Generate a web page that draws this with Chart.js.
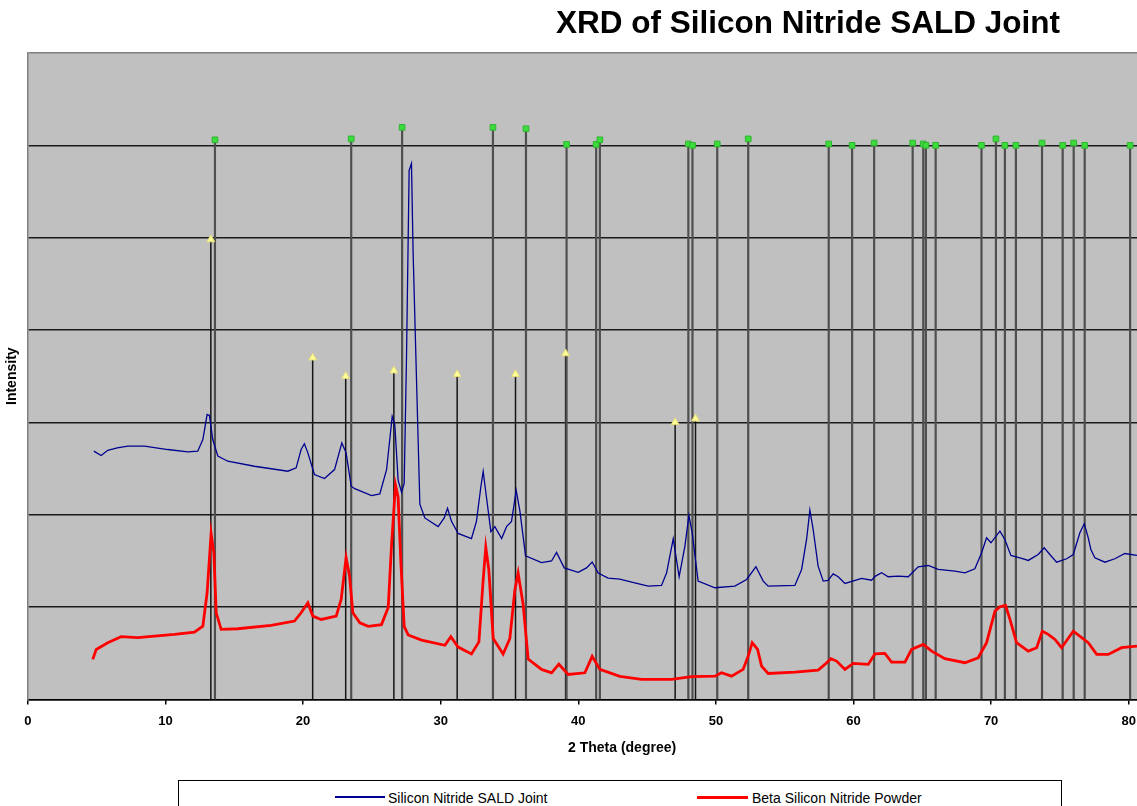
<!DOCTYPE html>
<html>
<head>
<meta charset="utf-8">
<title>XRD of Silicon Nitride SALD Joint</title>
<script src="https://cdn.jsdelivr.net/npm/chart.js@4.4.1/dist/chart.umd.min.js"></script>
<style>
  body { margin: 0; background: #fff; }
  #wrap { position: relative; width: 1137px; height: 806px; overflow: hidden; font-family: "Liberation Sans", Arial, sans-serif; color: #000; }
  #xrdChart { position: absolute; left: 0; top: 0; }
  #title { position: absolute; left: 556px; top: 7px; font-size: 31.5px; line-height: 31px; font-weight: bold; white-space: nowrap; }
  #xTitle { position: absolute; left: 568px; top: 740px; font-size: 14px; line-height: 14px; font-weight: bold; white-space: nowrap; }
  #legend { position: absolute; left: 178px; top: 780px; width: 884px; height: 40px; border: 1px solid #000; box-sizing: border-box; background: #fff; }
  .swatch { position: absolute; top: 15px; height: 0; }
  .label { position: absolute; top: 10px; font-size: 14px; line-height: 14px; white-space: nowrap; }
</style>
</head>
<body>
<div id="wrap">
  <canvas id="xrdChart" width="1145" height="806"></canvas>
  <div id="title">XRD of Silicon Nitride SALD Joint</div>
  <div id="xTitle">2 Theta (degree)</div>
  <div id="legend">
    <div class="swatch" style="left:156px;width:50px;border-top:2px solid #000090;"></div>
    <div class="label" style="left:209px;">Silicon Nitride SALD Joint</div>
    <div class="swatch" style="left:518px;width:51px;border-top:3px solid #ff0000;"></div>
    <div class="label" style="left:573px;">Beta Silicon Nitride Powder</div>
  </div>
</div>
<script>
// --- Data ---

// Silicon Nitride SALD Joint (blue trace)
const jointTheta = [4.80, 5.33, 5.81, 6.50, 7.27, 8.48, 10.17, 11.63, 12.35, 12.72, 13.03, 13.20, 13.44, 13.81, 14.53, 16.47, 18.90, 19.50, 19.86, 20.10, 20.35, 20.83, 21.56, 22.29, 22.82, 23.13, 23.50, 23.76, 24.98, 25.58, 26.07, 26.48, 26.67, 26.91, 27.16, 27.35, 27.52, 27.71, 27.88, 28.00, 28.20, 28.49, 28.85, 29.82, 30.26, 30.50, 30.79, 31.27, 32.24, 32.60, 32.92, 33.09, 33.33, 33.65, 33.94, 34.43, 34.79, 35.15, 35.49, 35.76, 36.17, 37.33, 38.06, 38.42, 38.98, 39.99, 40.60, 41.01, 41.45, 42.17, 43.02, 44.11, 45.08, 46.05, 46.42, 46.90, 47.33, 47.75, 48.04, 48.28, 48.71, 49.93, 51.38, 52.23, 52.91, 53.44, 53.80, 55.74, 56.23, 56.59, 56.83, 57.07, 57.43, 57.80, 58.16, 58.52, 58.89, 59.38, 60.59, 61.31, 61.60, 62.04, 62.52, 63.25, 63.98, 64.70, 65.43, 66.16, 67.37, 68.10, 68.82, 69.31, 69.67, 69.99, 70.64, 71.00, 71.44, 72.22, 72.70, 73.42, 73.86, 74.27, 74.76, 75.49, 75.97, 76.45, 76.77, 77.06, 77.25, 77.54, 78.27, 78.99, 79.72, 80.60];
const jointCounts = [2688, 2641, 2698, 2724, 2742, 2742, 2706, 2681, 2688, 2814, 3085, 3074, 2814, 2634, 2579, 2525, 2471, 2508, 2706, 2768, 2670, 2435, 2392, 2489, 2778, 2670, 2309, 2282, 2207, 2225, 2487, 3064, 2971, 2375, 2245, 2338, 3717, 5729, 5804, 4835, 3717, 2114, 1965, 1871, 1965, 2070, 1928, 1797, 1742, 1928, 2300, 2468, 2189, 1816, 1871, 1742, 1871, 1928, 2263, 2039, 1555, 1481, 1499, 1592, 1424, 1376, 1424, 1488, 1368, 1313, 1302, 1263, 1226, 1234, 1371, 1739, 1328, 1659, 1992, 1804, 1281, 1209, 1226, 1299, 1436, 1281, 1226, 1234, 1407, 1732, 2049, 1840, 1443, 1281, 1288, 1360, 1328, 1256, 1310, 1291, 1335, 1371, 1328, 1335, 1328, 1436, 1450, 1407, 1389, 1371, 1415, 1588, 1750, 1696, 1822, 1732, 1559, 1526, 1505, 1569, 1642, 1569, 1486, 1523, 1569, 1804, 1902, 1750, 1624, 1534, 1486, 1523, 1580, 1559];

// Beta Silicon Nitride Powder (red trace)
const powderTheta = [4.72, 4.97, 5.81, 6.78, 7.99, 9.20, 10.66, 12.11, 12.72, 13.03, 13.32, 13.52, 13.69, 14.05, 15.26, 17.68, 19.38, 19.86, 20.35, 20.71, 21.32, 22.41, 22.77, 23.13, 23.38, 23.62, 24.13, 24.73, 25.70, 26.19, 26.43, 26.72, 26.91, 27.11, 27.35, 27.64, 28.61, 30.31, 30.74, 31.27, 32.24, 32.78, 33.09, 33.28, 33.50, 33.82, 34.54, 35.03, 35.39, 35.63, 35.99, 36.36, 37.33, 38.06, 38.59, 39.27, 40.48, 41.01, 41.57, 43.02, 44.60, 46.78, 48.23, 49.93, 50.41, 51.14, 51.98, 52.35, 52.64, 53.03, 53.32, 53.80, 55.74, 57.43, 57.92, 58.36, 58.77, 59.38, 59.98, 61.07, 61.56, 62.28, 62.77, 63.74, 64.22, 65.07, 65.68, 66.64, 68.10, 69.06, 69.67, 70.28, 70.64, 71.05, 71.37, 71.85, 72.70, 73.31, 73.72, 74.15, 74.64, 75.12, 75.97, 76.58, 77.06, 77.67, 78.51, 79.48, 80.60];
const powderCounts = [433, 541, 614, 679, 668, 685, 704, 729, 793, 1155, 1797, 1588, 938, 758, 765, 801, 848, 938, 1047, 902, 866, 902, 1082, 1534, 1335, 938, 830, 791, 810, 996, 1667, 2320, 2189, 1481, 791, 698, 642, 586, 679, 567, 492, 623, 1295, 1648, 1406, 660, 492, 660, 1182, 1368, 1034, 437, 325, 288, 381, 270, 288, 466, 325, 250, 216, 216, 246, 252, 289, 252, 325, 469, 614, 541, 361, 281, 296, 317, 379, 441, 415, 325, 390, 379, 493, 498, 404, 404, 541, 595, 523, 441, 397, 451, 614, 956, 1003, 1017, 866, 614, 523, 560, 739, 704, 649, 560, 739, 668, 614, 487, 487, 560, 577];

// reference pattern lines with green markers
const refGreenTheta = [13.60, 23.50, 27.20, 33.80, 36.20, 39.15, 41.30, 41.57, 48.00, 48.30, 50.10, 52.35, 58.20, 59.90, 61.50, 64.30, 65.07, 65.26, 65.97, 69.30, 70.35, 71.00, 71.80, 73.70, 75.20, 76.00, 76.80, 80.10];
const refGreenHeight = [6060, 6070, 6195, 6195, 6180, 6010, 6010, 6060, 6015, 6000, 6015, 6070, 6015, 6000, 6025, 6025, 6015, 6000, 6000, 6000, 6070, 6000, 6000, 6025, 6000, 6025, 6000, 6000];

// reference pattern lines with yellow markers
const refYellowTheta = [13.30, 20.70, 23.10, 26.60, 31.20, 35.44, 39.08, 47.04, 48.52];
const refYellowHeight = [4980, 3700, 3500, 3560, 3520, 3520, 3745, 3000, 3040];

// axis ticks
const xTicks = [0, 10, 20, 30, 40, 50, 60, 70, 80];
const yGrid = [0, 1000, 2000, 3000, 4000, 5000, 6000, 7000];

// --- Helpers ---
const toPoints = (xs, ys) => xs.map((x, i) => ({ x: x, y: ys[i] }));
// a drop line from the axis up to each marker, broken by a null between them
const dropLines = (xs, ys) => xs.flatMap((x, i) => [{ x: x, y: 0 }, { x: x, y: ys[i] }, { x: x, y: null }]);

// grey plot background
const plotBackground = {
    id: 'plotBackground',
    beforeDraw(chart) {
        const { ctx, chartArea } = chart;
        ctx.save();
        ctx.fillStyle = '#c0c0c0';
        ctx.fillRect(chartArea.left, chartArea.top, chartArea.right - chartArea.left, chartArea.bottom - chartArea.top);
        ctx.restore();
    }
};

const ctx = document.getElementById('xrdChart');

new Chart(ctx, {
    type: 'line',
    data: {
        datasets: [
            {
                label: 'Silicon Nitride SALD Joint',
                data: toPoints(jointTheta, jointCounts),
                borderColor: '#000090',
                borderWidth: 1.3,
                pointRadius: 0,
                tension: 0,
            },
            {
                label: 'Beta Silicon Nitride Powder',
                data: toPoints(powderTheta, powderCounts),
                borderColor: '#ff0000',
                borderWidth: 2.8,
                pointRadius: 0,
                tension: 0,
            },
            {
                label: 'ref green',
                data: toPoints(refGreenTheta, refGreenHeight),
                showLine: false,
                pointStyle: 'rect',
                pointRadius: 4,
                backgroundColor: '#3ddc3d',
                borderColor: '#2fb52f',
                borderWidth: 1,
            },
            {
                label: 'ref yellow',
                data: toPoints(refYellowTheta, refYellowHeight),
                showLine: false,
                pointStyle: 'triangle',
                pointRadius: 4.5,
                backgroundColor: '#ffff99',
                borderColor: '#e6dc7a',
                borderWidth: 1,
            },
            {
                label: 'ref green lines',
                data: dropLines(refGreenTheta, refGreenHeight),
                borderColor: '#4f4f4f',
                borderWidth: 2.2,
                pointRadius: 0,
                spanGaps: false,
            },
            {
                label: 'ref yellow lines',
                data: dropLines(refYellowTheta, refYellowHeight),
                borderColor: '#151515',
                borderWidth: 1.5,
                pointRadius: 0,
                spanGaps: false,
            },
        ]
    },
    options: {
        responsive: false,
        animation: false,
        events: [],
        layout: {
            padding: { top: 53, left: 0, right: 0, bottom: 68 }
        },
        plugins: {
            legend: { display: false },
            tooltip: { enabled: false },
            title: { display: false },
        },
        scales: {
            x: {
                type: 'linear',
                min: 0,
                max: 80.6,
                afterBuildTicks: (scale) => {
                    scale.ticks = xTicks.map((v) => ({ value: v }));
                },
                ticks: {
                    padding: 9,
                    color: '#000',
                    font: { family: 'Liberation Sans', size: 13, weight: 'bold' },
                    maxRotation: 0,
                },
                grid: {
                    drawOnChartArea: false,
                    drawTicks: true,
                    tickLength: 5,
                    color: '#000',
                    lineWidth: 1.5,
                },
                border: { display: true, color: '#000', width: 1.5 },
            },
            y: {
                type: 'linear',
                min: 0,
                max: 7000,
                afterBuildTicks: (scale) => {
                    scale.ticks = yGrid.map((v) => ({ value: v }));
                },
                ticks: { display: false },
                grid: {
                    drawTicks: false,
                    lineWidth: 1.4,
                    color: (c) => (c.tick && c.tick.value === 7000 ? '#808080' : '#1a1a1a'),
                },
                border: { display: true, color: '#808080', width: 1.5 },
                title: {
                    display: true,
                    text: 'Intensity',
                    color: '#000',
                    font: { family: 'Liberation Sans', size: 14, weight: 'bold' },
                    padding: { top: 4, bottom: 7 },
                },
            }
        }
    },
    plugins: [plotBackground]
});
</script>
</body>
</html>
